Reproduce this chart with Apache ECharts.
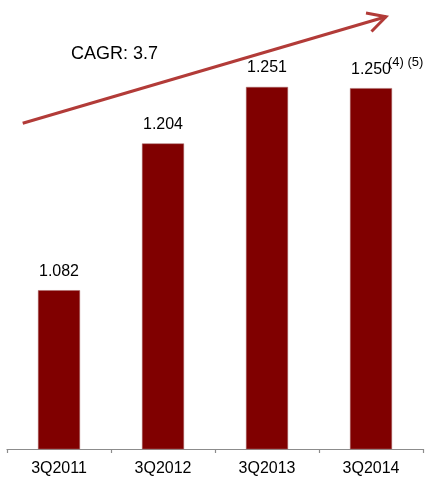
<!DOCTYPE html>
<html>
<head>
<meta charset="utf-8">
<script src="https://cdn.jsdelivr.net/npm/echarts@6/dist/echarts.min.js"></script>
<style>
  html, body { margin: 0; padding: 0; background: #ffffff; }
  #chart { width: 428px; height: 477px; }
</style>
</head>
<body>
<div id="chart"></div>
<script>
// Quarterly values, 3Q2011 – 3Q2014
const categories = ['3Q2011', '3Q2012', '3Q2013', '3Q2014'];
const values = [1.082, 1.204, 1.251, 1.250];
const valueLabels = ['1.082', '1.204', '1.251', '1.250'];
const footnote = '(4) (5)';
const cagrText = 'CAGR: 3.7';

const FONT = 'Liberation Sans, Arial, Helvetica, sans-serif';
const BAR = '#800000';
const ARROW = '#b23b38';

const chart = echarts.init(document.getElementById('chart'), null, { renderer: 'canvas' });

const option = {
  animation: false,
  backgroundColor: '#ffffff',
  grid: { left: 7, right: 5, top: 28, bottom: 24, containLabel: false },
  xAxis: {
    type: 'category',
    data: categories,
    axisLine: { show: true, lineStyle: { color: '#8c8c8c', width: 1.2 } },
    axisTick: { show: true, length: 4, lineStyle: { color: '#8c8c8c', width: 1.2 } },
    axisLabel: { color: '#000000', fontFamily: FONT, fontSize: 16, margin: 12 }
  },
  yAxis: {
    type: 'value',
    min: 0.95,
    max: 1.3,
    show: false,
    splitLine: { show: false }
  },
  series: [{
    type: 'bar',
    data: values,
    barWidth: 42,
    itemStyle: { color: BAR, borderColor: '#a86a6a', borderWidth: 0.5 },
    label: {
      show: true,
      position: 'top',
      distance: 11,
      color: '#000000',
      fontFamily: FONT,
      fontSize: 16,
      formatter: p => valueLabels[p.dataIndex]
    }
  }],
  graphic: [
    {
      id: 'cagr',
      type: 'text',
      left: 71,
      top: 45,
      style: { text: cagrText, fill: '#000000', font: '18px ' + FONT }
    },
    {
      id: 'arrowShaft',
      type: 'polyline',
      shape: { points: [[22.7, 123.3], [386, 16.7]] },
      style: { stroke: ARROW, lineWidth: 3, fill: null }
    },
    {
      id: 'arrowHead',
      type: 'polyline',
      shape: { points: [[366, 13], [386, 16.7], [371.5, 31.5]] },
      style: { stroke: ARROW, lineWidth: 3, fill: null, lineJoin: 'miter' }
    }
  ]
};

chart.setOption(option);

// Footnote marker beside the last bar's value label
const lastIdx = values.length - 1;
const pt = chart.convertToPixel({ seriesIndex: 0 }, [lastIdx, values[lastIdx]]);
chart.setOption({
  graphic: [
    {
      id: 'footnote',
      type: 'text',
      x: pt[0] + 17,
      y: pt[1] - 32,
      style: { text: footnote, fill: '#000000', font: '13px ' + FONT, textBaseline: 'top' }
    }
  ]
});
</script>
</body>
</html>
